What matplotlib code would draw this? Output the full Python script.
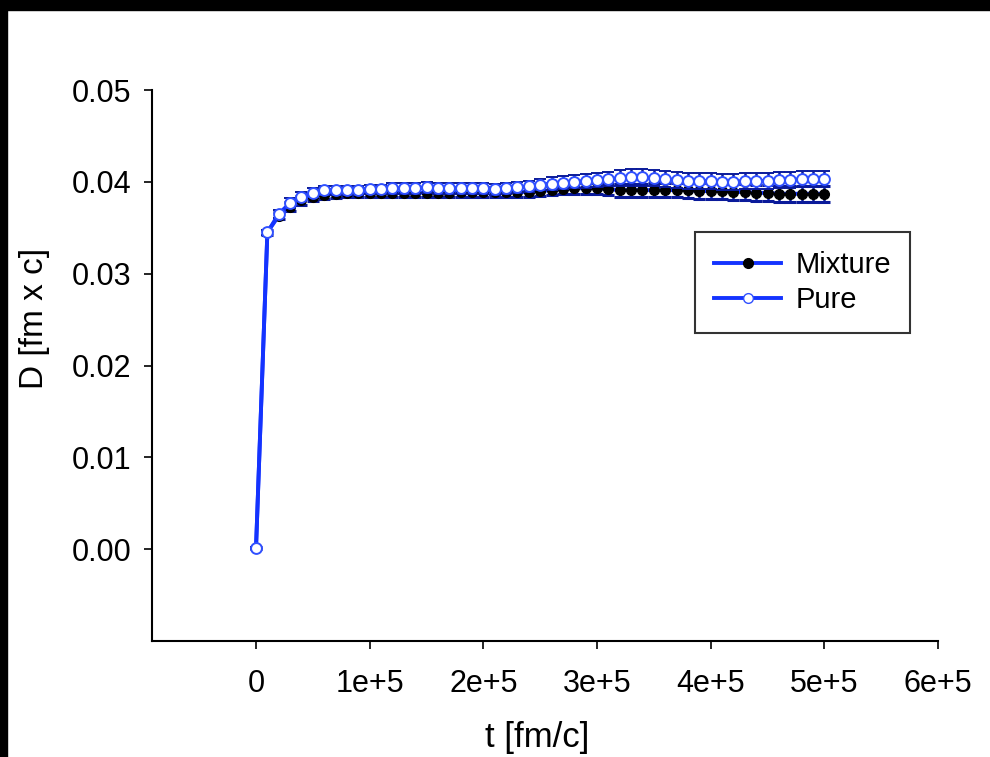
import matplotlib
matplotlib.use("Agg")
import matplotlib.pyplot as plt
from matplotlib.patches import Rectangle
from matplotlib.lines import Line2D
import numpy as np

plt.rcParams['font.family'] = ['Liberation Sans', 'DejaVu Sans']

t = [i * 1e4 for i in range(51)]

pure = [0.0001, 0.0345, 0.0365, 0.0377, 0.0384, 0.0388, 0.0391, 0.0391, 0.0391, 0.0391,
        0.0392, 0.0392, 0.0393, 0.0393, 0.0393, 0.0394, 0.0393, 0.0393, 0.0393, 0.0393,
        0.0393, 0.0392, 0.0393, 0.0394, 0.0395, 0.0397, 0.0398, 0.0399, 0.0400, 0.0401,
        0.0402, 0.0403, 0.0404, 0.0405, 0.0405, 0.0404, 0.0403, 0.0402, 0.0401, 0.0401,
        0.0401, 0.0400, 0.0400, 0.0401, 0.0401, 0.0401, 0.0402, 0.0402, 0.0403, 0.0403,
        0.0403]
pure_err = [0.0001, 0.0003, 0.0004, 0.0005, 0.0005, 0.0005, 0.0005, 0.0005, 0.0005, 0.0005,
            0.0005, 0.0005, 0.0006, 0.0006, 0.0006, 0.0006, 0.0006, 0.0006, 0.0006, 0.0006,
            0.0006, 0.0006, 0.0006, 0.0006, 0.0006, 0.0006, 0.0007, 0.0007, 0.0007, 0.0008,
            0.0008, 0.0008, 0.0009, 0.0009, 0.0009, 0.0009, 0.0009, 0.0009, 0.0009, 0.0009,
            0.0009, 0.0009, 0.0009, 0.0009, 0.0009, 0.0009, 0.0009, 0.0009, 0.0009, 0.0009,
            0.0009]

mixture = [0.0001, 0.0345, 0.0363, 0.0373, 0.0380, 0.0384, 0.0386, 0.0387, 0.0388, 0.0388,
           0.0388, 0.0388, 0.0388, 0.0388, 0.0388, 0.0388, 0.0388, 0.0388, 0.0389, 0.0389,
           0.0389, 0.0389, 0.0389, 0.0389, 0.0389, 0.0390, 0.0391, 0.0392, 0.0393, 0.0393,
           0.0393, 0.0392, 0.0391, 0.0391, 0.0391, 0.0391, 0.0391, 0.0391, 0.0391, 0.0390,
           0.0390, 0.0390, 0.0389, 0.0389, 0.0388, 0.0388, 0.0387, 0.0387, 0.0387, 0.0387,
           0.0387]
mixture_err = [0.0001, 0.0003, 0.0004, 0.0005, 0.0005, 0.0005, 0.0005, 0.0005, 0.0005, 0.0005,
               0.0005, 0.0005, 0.0005, 0.0005, 0.0005, 0.0005, 0.0005, 0.0005, 0.0005, 0.0005,
               0.0005, 0.0005, 0.0005, 0.0005, 0.0005, 0.0005, 0.0005, 0.0005, 0.0006, 0.0006,
               0.0006, 0.0006, 0.0007, 0.0007, 0.0007, 0.0008, 0.0008, 0.0008, 0.0009, 0.0009,
               0.0009, 0.0009, 0.0009, 0.0009, 0.0009, 0.0009, 0.0009, 0.0009, 0.0009, 0.0009,
               0.0009]

xticks = [0, 1e5, 2e5, 3e5, 4e5, 5e5, 6e5]
xticklabels = ['0', '1e+5', '2e+5', '3e+5', '4e+5', '5e+5', '6e+5']
yticks = [0.00, 0.01, 0.02, 0.03, 0.04, 0.05]
yticklabels = ['0.00', '0.01', '0.02', '0.03', '0.04', '0.05']

W, H = 990, 757
fig = plt.figure(figsize=(W / 100, H / 100), dpi=100)
ax = fig.add_axes([152 / W, 1 - 641 / H, (938 - 152) / W, (641 - 90) / H])

line_col = '#1433ff'
err_col = '#0a1a9a'

ax.errorbar(t, mixture, yerr=mixture_err, color=line_col, lw=2.8,
            marker='o', ms=7.0, mfc='black', mec='black',
            ecolor=err_col, elinewidth=1.8, capsize=4.3, capthick=2.2, zorder=3)
ax.errorbar(t, pure, yerr=pure_err, color=line_col, lw=2.8,
            marker='o', ms=7.8, mfc='white', mec='#3050ff', mew=1.4,
            ecolor=err_col, elinewidth=1.8, capsize=4.3, capthick=2.2, zorder=4)

ax.set_xlim(-0.915e5, 6e5)
ax.set_ylim(-0.01, 0.05)
ax.set_xticks(xticks)
ax.set_xticklabels(xticklabels)
ax.set_yticks(yticks)
ax.set_yticklabels(yticklabels)
ax.spines['top'].set_visible(False)
ax.spines['right'].set_visible(False)
for s in ['left', 'bottom']:
    ax.spines[s].set_linewidth(1.5)
ax.tick_params(axis='both', direction='out', length=6, width=1.2, labelsize=22)
ax.tick_params(axis='x', pad=14)
ax.tick_params(axis='y', pad=9)

ax.set_xlabel('t [fm/c]', fontsize=25)
ax.set_ylabel('D [fm x c]', fontsize=24)
ax.xaxis.set_label_coords(0.49, -0.145)
ax.yaxis.set_label_coords(-0.13, 0.585)

handles = [
    Line2D([], [], color=line_col, lw=2.8, marker='o', ms=7, mfc='black', mec='black'),
    Line2D([], [], color=line_col, lw=2.8, marker='o', ms=7, mfc='white', mec='#3050ff'),
]
leg = ax.legend(handles, ['Mixture', 'Pure'], loc='upper left',
                bbox_to_anchor=(0.691, 0.742), fontsize=21, frameon=True,
                fancybox=False, edgecolor='black', handlelength=2.3,
                borderpad=0.65, labelspacing=0.25, handletextpad=0.5,
                borderaxespad=0)
leg.get_frame().set_linewidth(1.5)

# black border strips of the original scan
fig.patches.append(Rectangle((0, 1 - 10 / H), 1, 10 / H, transform=fig.transFigure,
                             color='black', zorder=10))
fig.patches.append(Rectangle((0, 0), 7 / W, 1, transform=fig.transFigure,
                             color='black', zorder=10))

fig.savefig('out.png', dpi=100)
